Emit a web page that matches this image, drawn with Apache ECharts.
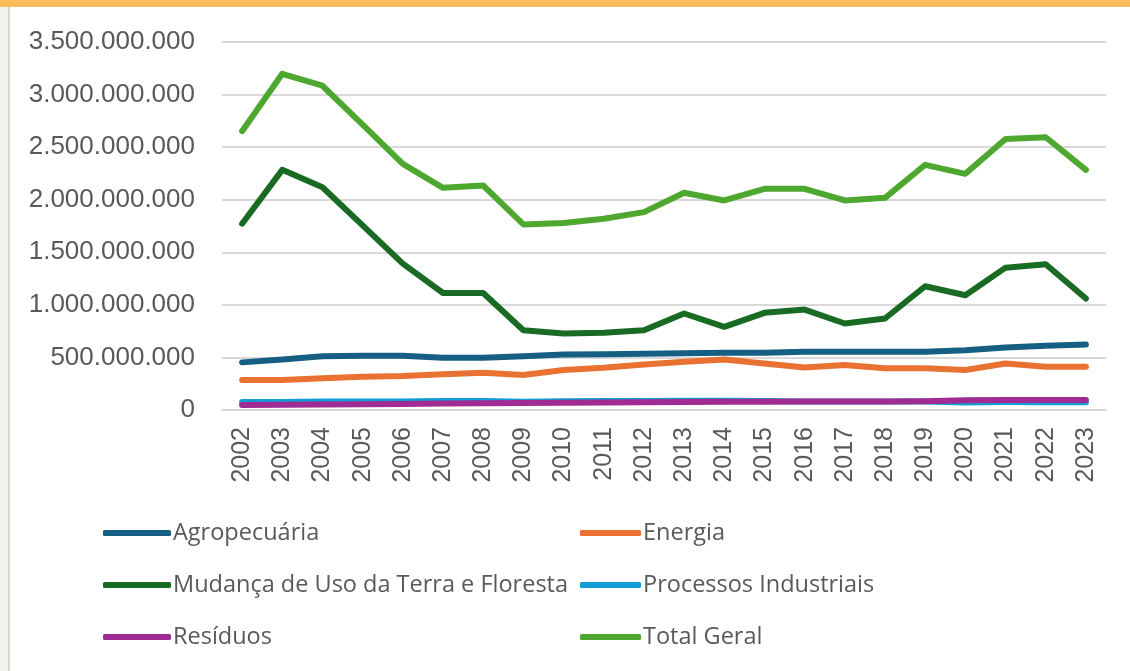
<!DOCTYPE html>
<html>
<head>
<meta charset="utf-8">
<script src="https://cdn.jsdelivr.net/npm/echarts@6/dist/echarts.min.js"></script>
<style>
  body { margin: 0; width: 1130px; height: 671px; overflow: hidden; background: #f3f1ec; position: relative; }
  #topband { position: absolute; left: 0; top: 0; width: 1130px; height: 7px; background: #ffbc5c; }
  #panel { position: absolute; left: 8px; top: 7px; width: 1122px; height: 664px; background: #fff; border-left: 2px solid #d6d6d6; box-sizing: border-box; }
  #chart { position: absolute; left: 0; top: 0; width: 1130px; height: 671px; }
</style>
</head>
<body>
<div id="topband"></div>
<div id="panel"></div>
<div id="chart"></div>
<script>
// anos
const years = ['2002', '2003', '2004', '2005', '2006', '2007', '2008', '2009', '2010', '2011', '2012',
  '2013', '2014', '2015', '2016', '2017', '2018', '2019', '2020', '2021', '2022', '2023']

// valores em milhões (t CO2e)
const agropecuaria = [453, 481, 512, 515, 515, 498, 496, 512, 528, 531, 534, 540, 544, 544, 553, 553, 553, 553, 569, 595, 610, 623]
const energia = [285, 285, 301, 316, 323, 339, 354, 332, 380, 401, 433, 460, 481, 443, 405, 427, 396, 396, 380, 443, 411, 411]
const mudancaUso = [1772, 2284, 2119, 1756, 1392, 1113, 1113, 759, 728, 734, 759, 918, 791, 924, 955, 823, 870, 1177, 1091, 1354, 1386, 1060]
const processos = [75, 76, 80, 80, 82, 85, 85, 78, 84, 86, 86, 87, 87, 85, 82, 82, 82, 82, 72, 76, 74, 74]
const residuos = [48, 50, 52, 55, 58, 62, 65, 67, 70, 72, 74, 76, 78, 79, 80, 81, 82, 84, 92, 94, 95, 96]
const totalGeral = [2652, 3198, 3084, 2714, 2341, 2113, 2135, 1765, 1778, 1819, 1882, 2066, 1993, 2104, 2104, 1993, 2018, 2332, 2246, 2578, 2594, 2284]

const seriesNames = ['Agropecuária', 'Energia', 'Mudança de Uso da Terra e Floresta', 'Processos Industriais', 'Resíduos', 'Total Geral']
const seriesData = [agropecuaria, energia, mudancaUso, processos, residuos, totalGeral]
const colors = ['#156082', '#e97132', '#196b24', '#0f9ed5', '#a02b93', '#4ea72e']

function fmt(v) {
  return String(Math.round(v)).replace(/\B(?=(\d{3})+(?!\d))/g, '.')
}

const chart = echarts.init(document.getElementById('chart'))

// legenda em 2 colunas, 3 linhas
const legendPos = [
  { left: 103, top: 521 }, { left: 580, top: 521 },
  { left: 103, top: 573 }, { left: 580, top: 573 },
  { left: 103, top: 625 }, { left: 580, top: 625 }
]
const legends = seriesNames.map((name, i) => ({
  data: [name],
  left: legendPos[i].left,
  top: legendPos[i].top,
  icon: 'roundRect',
  itemWidth: i % 2 === 0 ? 68 : 61,
  itemHeight: 6,
  padding: 0,
  selectedMode: false,
  textStyle: { color: '#595959', fontSize: 23.5, fontFamily: 'Open Sans', padding: [0, 0, 0, -3] }
}))

chart.setOption({
  animation: false,
  color: colors,
  legend: legends,
  grid: { left: 222, right: 24, top: 42, bottom: 261 },
  xAxis: {
    type: 'category',
    data: years,
    boundaryGap: true,
    axisTick: { show: false },
    axisLine: { lineStyle: { color: '#d9d9d9', width: 2 } },
    axisLabel: {
      rotate: 90,
      interval: 0,
      margin: 17,
      color: '#595959',
      fontSize: 25,
      fontFamily: 'Liberation Sans'
    }
  },
  yAxis: {
    type: 'value',
    min: 0,
    max: 3500000000,
    interval: 500000000,
    axisLine: { show: false },
    axisTick: { show: false },
    splitLine: { lineStyle: { color: '#d9d9d9', width: 2 } },
    axisLabel: {
      margin: 27,
      color: '#595959',
      fontSize: 26,
      fontFamily: 'Liberation Sans',
      formatter: v => fmt(v)
    }
  },
  series: seriesNames.map((name, i) => ({
    name: name,
    type: 'line',
    data: seriesData[i].map(v => v * 1000000),
    symbol: 'none',
    lineStyle: { width: 6, color: colors[i], cap: 'round', join: 'round' },
    itemStyle: { color: colors[i] }
  }))
})
</script>
</body>
</html>
